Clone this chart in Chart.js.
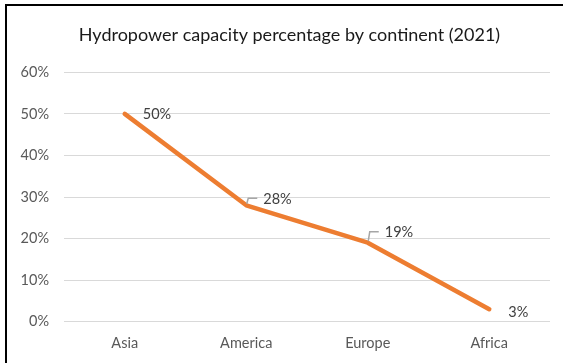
<!DOCTYPE html>
<html>
<head>
<meta charset="utf-8">
<script src="https://cdn.jsdelivr.net/npm/chart.js@4"></script>
<style>
  html, body { margin: 0; padding: 0; background: #fff; }
  #wrap { position: relative; width: 568px; height: 363px; overflow: hidden; }
  #frame { position: absolute; left: 5px; top: 4px; width: 558px; height: 380px;
           border-top: 2px solid #000; border-left: 2px solid #000; box-sizing: border-box; pointer-events: none; }
  canvas { position: absolute; left: 0; top: 0; }
</style>
</head>
<body>
<div id="wrap">
  <canvas id="c" width="568" height="363"></canvas>
  <div id="frame"></div>
</div>
<script>
const categories = ["Asia", "America", "Europe", "Africa"];
const capacityShare = [0.50, 0.28, 0.19, 0.03];
const yTickValues = [0, 0.1, 0.2, 0.3, 0.4, 0.5, 0.6];
const chartTitle = "Hydropower capacity percentage by continent (2021)";

const FONT = "Lato, Carlito, Calibri, 'Open Sans', sans-serif";

const titleDraw = {
  id: 'titleDraw',
  afterDraw(chart, args, opts) {
    const ctx = chart.ctx;
    ctx.save();
    ctx.font = opts.font;
    ctx.fillStyle = opts.color;
    ctx.textAlign = 'center';
    ctx.textBaseline = 'middle';
    ctx.fillText(opts.text, opts.x, opts.y);
    ctx.restore();
  }
};

const dataLabels = {
  id: 'dataLabels',
  afterDatasetsDraw(chart, args, opts) {
    const ctx = chart.ctx;
    const meta = chart.getDatasetMeta(0);
    const ds = chart.data.datasets[0];
    ctx.save();
    ctx.font = opts.font;
    ctx.textAlign = 'left';
    ctx.textBaseline = 'middle';
    meta.data.forEach((el, i) => {
      const o = opts.offsets[i];
      const x = el.x, y = el.y;
      if (o.leader) {
        ctx.strokeStyle = opts.leaderColor;
        ctx.lineWidth = 1.5;
        ctx.beginPath();
        ctx.moveTo(x + 0.5, y - 1.5);
        ctx.lineTo(x + 2, y + o.dy);
        ctx.lineTo(x + o.dx - 6, y + o.dy);
        ctx.stroke();
      }
      ctx.fillStyle = opts.color;
      ctx.fillText(Math.round(ds.data[i] * 100) + '%', x + o.dx, y + o.dy + 1);
    });
    ctx.restore();
  }
};

new Chart(document.getElementById('c'), {
  type: 'line',
  data: {
    labels: categories,
    datasets: [{
      data: capacityShare,
      borderColor: '#ED7D31',
      borderWidth: 4.5,
      borderCapStyle: 'round',
      borderJoinStyle: 'round',
      pointRadius: 0,
      tension: 0,
      fill: false
    }]
  },
  options: {
    responsive: false,
    animation: false,
    devicePixelRatio: 1,
    layout: { padding: { left: 0, right: 18, top: 72.3, bottom: 0 } },
    plugins: {
      legend: { display: false },
      tooltip: { enabled: false },
      title: { display: false },
      titleDraw: {
        text: chartTitle,
        font: "18px " + FONT,
        color: '#1a1a1a',
        x: 289.5,
        y: 35
      },
      dataLabels: {
        font: "14.5px " + FONT,
        color: '#404040',
        leaderColor: '#A6A6A6',
        offsets: [
          { dx: 18, dy: -1, leader: false },
          { dx: 17, dy: -7, leader: true },
          { dx: 17, dy: -11, leader: true },
          { dx: 19, dy: 2.5, leader: false }
        ]
      }
    },
    scales: {
      x: {
        offset: true,
        grid: { display: false, drawTicks: false },
        border: { display: false },
        ticks: { color: '#595959', font: { family: FONT, size: 14.5 }, padding: 13, maxRotation: 0 },
        afterFit(scale) { scale.height = 41.3; }
      },
      y: {
        min: 0, max: 0.6,
        afterBuildTicks(scale) { scale.ticks = yTickValues.map(v => ({ value: v })); },
        grid: { color: '#D9D9D9', lineWidth: 1, drawTicks: false },
        border: { display: false },
        ticks: {
          color: '#595959',
          font: { family: FONT, size: 14.5 },
          padding: 15,
          callback: v => Math.round(v * 100) + '%'
        },
        afterFit(scale) { scale.width = 64; }
      }
    }
  },
  plugins: [dataLabels, titleDraw]
});
</script>
</body>
</html>
